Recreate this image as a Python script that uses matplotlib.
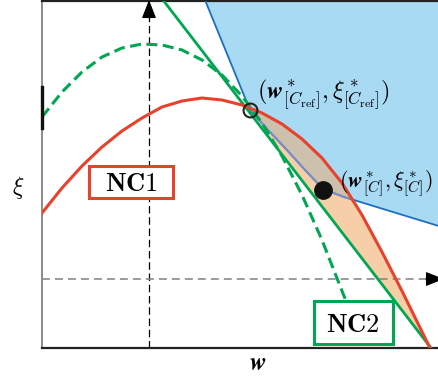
import numpy as np
import matplotlib
matplotlib.use("Agg")
import matplotlib.pyplot as plt
from matplotlib.patches import Polygon, Rectangle

plt.rcParams['mathtext.fontset'] = 'cm'
plt.rcParams['font.family'] = ['DejaVu Serif']

# values (w to the right, xi upwards, arbitrary units)
nc1_w = [0, 20, 40, 60, 80, 100, 120, 140, 160, 180, 200, 220, 240, 260, 280, 300, 320, 340, 360, 388]
nc1_xi = [135, 160, 182, 201, 217, 230, 241, 247, 250, 248, 243, 235, 224, 209, 190, 165, 133, 96, 57, 0]

nc2_curve_w = [0, 20, 40, 60, 80, 100, 120, 140, 160, 180, 200, 220, 240, 260, 280, 300, 323]
nc2_curve_xi = [231, 256, 276, 291, 300, 304, 303, 298, 288, 273, 252, 225, 192, 153, 108, 57, 0]

nc2_line_w = [121, 389]
nc2_line_xi = [348, 0]

region_w = [163, 208, 226, 244, 263, 281, 302, 400]
region_xi = [348, 238, 218, 199, 178, 159, 151, 121]

ref_pt = (208, 238)
opt_pt = (281, 158)
w_ref_line = 107
xi_ref_line = 69

RED = '#e8412c'
GREEN = '#00a651'
BLUE = '#1a6fc4'

fig = plt.figure(figsize=(4.38, 3.83), dpi=100)
ax = fig.add_axes([42 / 438, 35 / 383, 400 / 438, 347 / 383])
ax.set_xlim(0, 400)
ax.set_ylim(0, 347)
ax.set_xticks([])
ax.set_yticks([])
ax.spines['right'].set_visible(False)
ax.spines['left'].set_color('#8a8a8a')
ax.spines['left'].set_linewidth(1.4)
ax.spines['bottom'].set_color('#222222')
ax.spines['bottom'].set_linewidth(1.6)
ax.spines['top'].set_color('#222222')
ax.spines['top'].set_linewidth(1.6)
ax.plot([0, 0], [220, 261], color='#111111', lw=2.4, clip_on=False, zorder=6)

# feasible (blue) region
blue_pts = list(zip(region_w, region_xi)) + [(400, 348)]
blue_poly = Polygon(blue_pts, closed=True, fc='#a8daf4', ec='none', zorder=1)
ax.add_patch(blue_poly)

# orange region between NC1 and the NC2 tangent
sel = [i for i, w in enumerate(nc1_w) if w > ref_pt[0]]
orange_pts = [ref_pt] + [(nc1_w[i], nc1_xi[i]) for i in sel] + [(nc2_line_w[1], nc2_line_xi[1])]
orange_poly = Polygon(orange_pts, closed=True, fc='#f6cfa8', ec='none', zorder=2)
ax.add_patch(orange_poly)
overlap = Polygon(orange_pts, closed=True, fc='#cdc0ad', ec='none', zorder=2.5)
ax.add_patch(overlap)
overlap.set_clip_path(blue_poly)

# region border
ax.plot(region_w, region_xi, color=BLUE, lw=1.3, zorder=3)
edge2, = ax.plot(region_w, region_xi, color='#7f8ec4', lw=1.4, zorder=3.2)
edge2.set_clip_path(orange_poly)

# reference dashed lines with arrow heads
head = dict(arrowstyle='-|>,head_length=1.15,head_width=0.45', color='black',
            lw=0.8, shrinkA=0, shrinkB=0, mutation_scale=10)
ax.plot([w_ref_line, w_ref_line], [0, 332], color='black', lw=0.9, ls=(0, (6, 3)), zorder=2)
ax.annotate('', xy=(w_ref_line, 348), xytext=(w_ref_line, 330), arrowprops=head,
            annotation_clip=False, zorder=4)
ax.plot([0, 388], [xi_ref_line, xi_ref_line], color='#808080', lw=1.1, ls=(0, (5.2, 3.3)), zorder=2)
ax.annotate('', xy=(402, xi_ref_line), xytext=(384, xi_ref_line), arrowprops=head,
            annotation_clip=False, zorder=4)

# curves
ax.plot(nc2_curve_w, nc2_curve_xi, color=GREEN, lw=2.2, ls=(0, (3.6, 1.8)), zorder=4)
ax.plot(nc2_line_w, nc2_line_xi, color=GREEN, lw=2.0, zorder=4)
ax.plot(nc1_w, nc1_xi, color=RED, lw=2.2, zorder=4.5, solid_joinstyle='round')

ax.plot(*ref_pt, marker='o', ms=10, mfc='none', mec='#222222', mew=1.5, zorder=6)
ax.plot(*opt_pt, marker='o', ms=12.5, mfc='#111111', mec='#111111', zorder=6)

ax.text(215, 253, r'$(\mathbfit{w}^*_{[C_{\rm ref}]},\xi^*_{[C_{\rm ref}]})$', fontsize=17.5,
        va='center', ha='left', zorder=7)
ax.text(297, 164, r'$(\mathbfit{w}^*_{[C]},\xi^*_{[C]})$', fontsize=15.8,
        va='center', ha='left', zorder=7)

# labelled boxes
ax.add_patch(Rectangle((47, 150), 84, 32, fc='white', ec=RED, lw=2.2, zorder=8))
ax.text(89, 157, r'$\mathbf{NC1}$', fontsize=19, ha='center', va='baseline', zorder=9)
ax.add_patch(Rectangle((272, 4), 79, 43, fc='white', ec=GREEN, lw=2.2, zorder=8))
ax.text(311, 16, r'$\mathbf{NC2}$', fontsize=19, ha='center', va='baseline', zorder=9)

ax.text(216, -15, r'$\mathbfit{w}$', fontsize=18, ha='center', va='center', clip_on=False)
ax.text(-24, 161, r'$\xi$', fontsize=17, ha='center', va='center', clip_on=False)

fig.savefig('out.png', dpi=100)
